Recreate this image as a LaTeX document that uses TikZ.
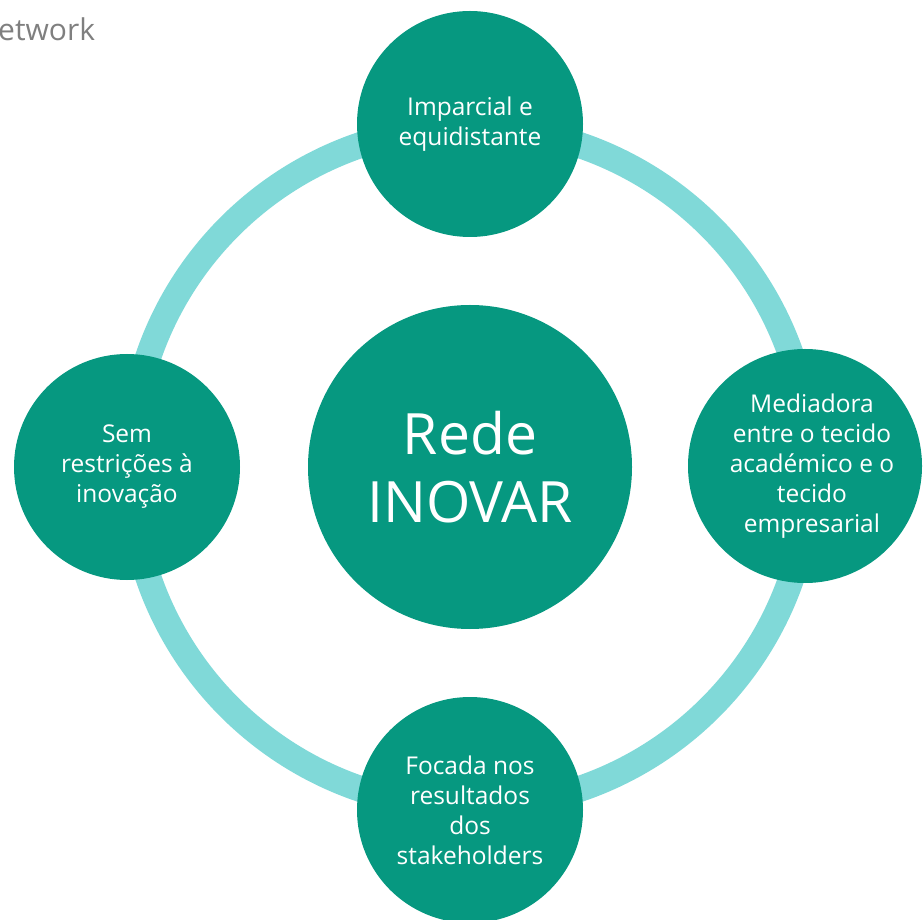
\documentclass[tikz,border=0pt]{standalone}
\usepackage{fontspec}
\setmainfont{Open Sans}
\definecolor{dark}{HTML}{069880}
\definecolor{ringc}{HTML}{80D9D8}
\definecolor{graytxt}{HTML}{7F7F7F}
\begin{document}
\begin{tikzpicture}[x=1pt,y=1pt,
  bub/.style={circle,fill=dark,draw=none,text=white,align=center,inner sep=0pt,
    font=\fontsize{24.5}{30}\selectfont},
  bubtext/.style={text=white,align=center,inner sep=0pt,font=\fontsize{24.5}{30}\selectfont},
  ring/.style={draw=ringc,line width=26pt}]
\useasboundingbox (0,0) rectangle (923,919);
\coordinate (rc) at (470,452);
\draw[ring] (rc) circle[radius=340];
\node[bub,minimum size=324pt,font=\fontsize{57}{68}\selectfont] (c) at (470,452) {Rede\\INOVAR};
\node[bub,minimum size=226pt] (t) at (470,795) {Imparcial e\\equidistante};
\node[bub,minimum size=226pt] (l) at (127,452) {Sem\\restrições à\\inovação};
\node[bub,minimum size=234pt] (r) at (805,453) {};
\node[bubtext] (rt) at (812,453) {Mediadora\\entre o tecido\\académico e o\\tecido\\empresarial};
\node[bub,minimum size=226pt] (b) at (470,109) {Focada nos\\resultados\\dos\\stakeholders};
\node[anchor=base west,text=graytxt,font=\fontsize{30}{36}\selectfont,inner sep=0pt] (net) at (-2,878) {etwork};
\end{tikzpicture}
\end{document}
